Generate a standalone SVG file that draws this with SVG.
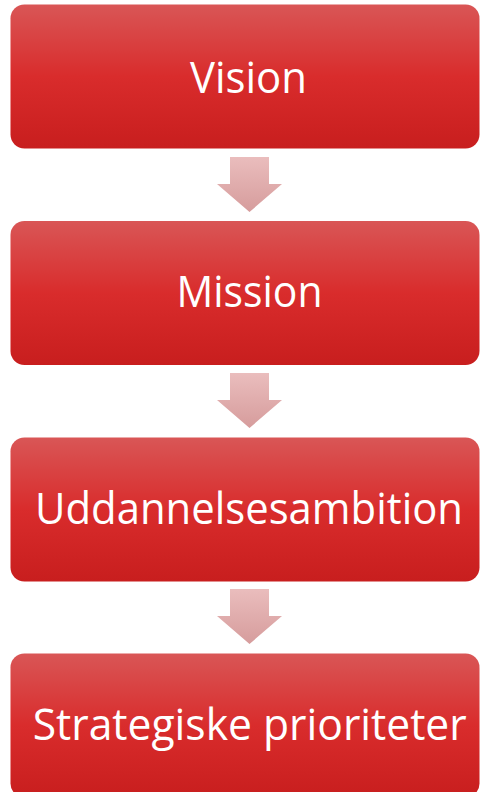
<svg xmlns="http://www.w3.org/2000/svg" width="480" height="792" viewBox="0 0 480 792">
<defs>
<linearGradient id="boxg" x1="0" y1="0" x2="0" y2="1">
<stop offset="0" stop-color="#d95656"/>
<stop offset="0.5" stop-color="#d92c2c"/>
<stop offset="1" stop-color="#c81e1e"/>
</linearGradient>
<linearGradient id="arrg" x1="0" y1="0" x2="0" y2="1">
<stop offset="0" stop-color="#eabdbd"/>
<stop offset="1" stop-color="#d69c9c"/>
</linearGradient>
</defs>
<style>
.box{fill:url(#boxg);}
.lbl{font-family:"Open Sans","Noto Sans",sans-serif;font-size:44px;fill:#ffffff;text-anchor:middle;}
.arr{fill:url(#arrg);}
</style>
<rect width="480" height="792" fill="#ffffff"/>
<g id="connectors">
<polygon class="arr" points="230,157 269,157 269,184 282,184 249.5,212 217,184 230,184"/>
<polygon class="arr" points="230,373 269,373 269,400 282,400 249.5,428 217,400 230,400"/>
<polygon class="arr" points="230,589 269,589 269,616 282,616 249.5,644 217,616 230,616"/>
</g>
<g id="node-vision">
<rect class="box" x="10.5" y="4.5" width="469" height="144" rx="14"/>
<text class="lbl" x="248.5" y="92.5" textLength="117" lengthAdjust="spacingAndGlyphs">Vision</text>
</g>
<g id="node-mission">
<rect class="box" x="10.5" y="221" width="469" height="144" rx="14"/>
<text class="lbl" x="249.5" y="307" textLength="146" lengthAdjust="spacingAndGlyphs">Mission</text>
</g>
<g id="node-uddannelsesambition">
<rect class="box" x="10.5" y="437.5" width="469" height="144" rx="14"/>
<text class="lbl" x="249" y="523.5" textLength="428" lengthAdjust="spacingAndGlyphs">Uddannelsesambition</text>
</g>
<g id="node-strategiske">
<rect class="box" x="10.5" y="653.5" width="469" height="144" rx="14"/>
<text class="lbl" x="249.7" y="740" textLength="434" lengthAdjust="spacingAndGlyphs">Strategiske prioriteter</text>
</g>
</svg>
